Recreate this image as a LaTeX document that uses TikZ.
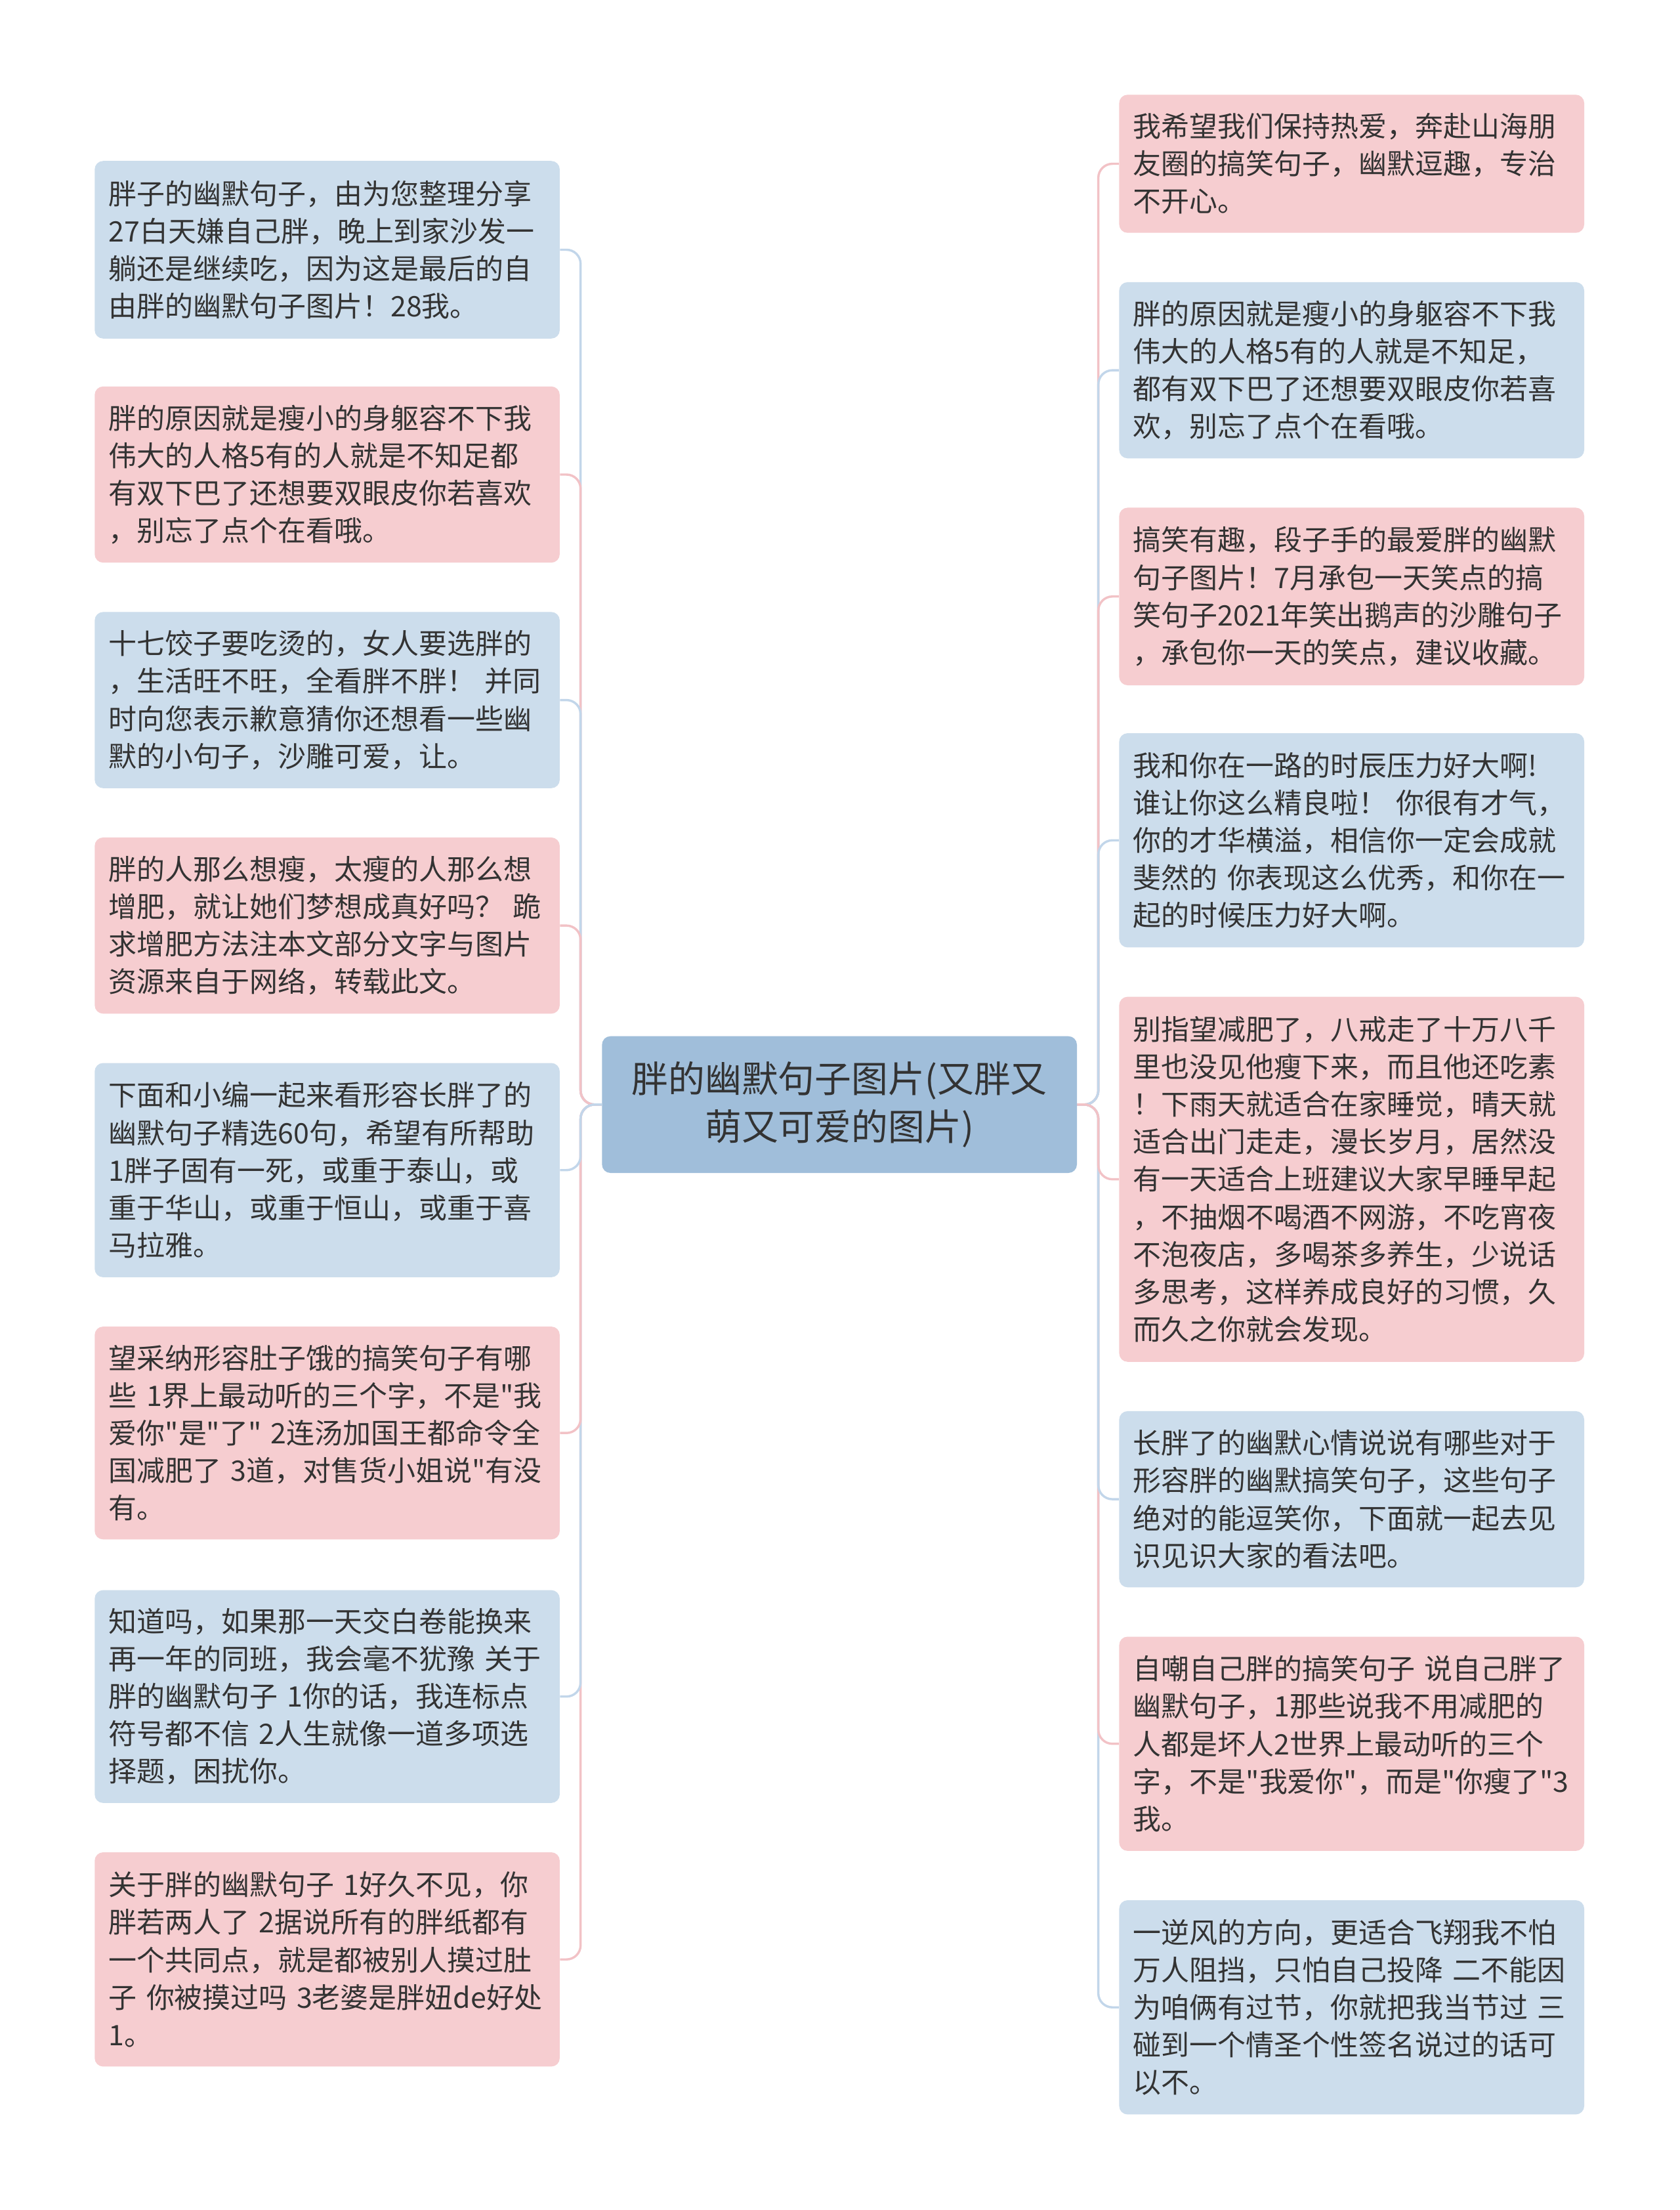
\documentclass[tikz,border=0pt]{standalone}
\usepackage{fontspec}
\setmainfont{Noto Sans CJK SC}[Ligatures=TeXOff]
\usetikzlibrary{backgrounds}
\definecolor{bluebox}{HTML}{CCDDEC}
\definecolor{pinkbox}{HTML}{F6CDD0}
\definecolor{rootbox}{HTML}{A0BEDA}
\definecolor{bluelink}{HTML}{C2D6EA}
\definecolor{pinklink}{HTML}{F2C2C6}
\definecolor{txt}{HTML}{333333}
\tikzset{
  leaf/.style={anchor=north west, text width=310pt, inner xsep=10pt, inner ysep=0pt,
    align=left, rounded corners=6pt, font=\fontsize{20pt}{26.6pt}\selectfont, text=txt},
  bleaf/.style={leaf, fill=bluebox},
  pleaf/.style={leaf, fill=pinkbox},
  rootbox/.style={anchor=north west, minimum width=337pt, minimum height=97pt, inner sep=0pt,
    align=center, rounded corners=6pt, fill=rootbox, text=txt, font=\fontsize{26pt}{34pt}\selectfont},
  link/.style={line width=1.6pt, rounded corners=10pt},
  blink/.style={link, draw=bluelink},
  plink/.style={link, draw=pinklink},
}
\begin{document}
\begin{tikzpicture}[x=1pt,y=-1pt]
\begin{scope}[on background layer]
\fill[white] (0,0) rectangle (1192,1568);
\end{scope}
\useasboundingbox (0,0) rectangle (1192,1568);

\node[rootbox] (root) at (427,735) {胖的幽默句子图片(又胖又\\萌又可爱的图片)};

% left column
\node[bleaf, minimum height=126pt] (L1) at (67,114) {胖子的幽默句子，由为您整理分享\\27白天嫌自己胖，晚上到家沙发一\\躺还是继续吃，因为这是最后的自\\由胖的幽默句子图片！28我。};
\node[pleaf, minimum height=125pt] (L2) at (67,274) {胖的原因就是瘦小的身躯容不下我\\伟大的人格5有的人就是不知足都\\有双下巴了还想要双眼皮你若喜欢\\，别忘了点个在看哦。};
\node[bleaf, minimum height=125pt] (L3) at (67,434) {十七饺子要吃烫的，女人要选胖的\\，生活旺不旺，全看胖不胖！~并同\\时向您表示歉意猜你还想看一些幽\\默的小句子，沙雕可爱，让。};
\node[pleaf, minimum height=125pt] (L4) at (67,594) {胖的人那么想瘦，太瘦的人那么想\\增肥，就让她们梦想成真好吗？~跪\\求增肥方法注本文部分文字与图片\\资源来自于网络，转载此文。};
\node[bleaf, minimum height=152pt] (L5) at (67,754) {下面和小编一起来看形容长胖了的\\幽默句子精选60句，希望有所帮助\\1胖子固有一死，或重于泰山，或\\重于华山，或重于恒山，或重于喜\\马拉雅。};
\node[pleaf, minimum height=151pt] (L6) at (67,941) {望采纳形容肚子饿的搞笑句子有哪\\些~1界上最动听的三个字，不是"我\\爱你"是"了"~2连汤加国王都命令全\\国减肥了~3道，对售货小姐说"有没\\有。};
\node[bleaf, minimum height=151pt] (L7) at (67,1128) {知道吗，如果那一天交白卷能换来\\再一年的同班，我会毫不犹豫~关于\\胖的幽默句子~1你的话，我连标点\\符号都不信~2人生就像一道多项选\\择题，困扰你。};
\node[pleaf, minimum height=152pt] (L8) at (67,1314) {关于胖的幽默句子~1好久不见，你\\胖若两人了~2据说所有的胖纸都有\\一个共同点，就是都被别人摸过肚\\子~你被摸过吗~3老婆是胖妞de好处\\1。};

% right column
\node[pleaf, minimum height=98pt] (R1) at (794,67) {我希望我们保持热爱，奔赴山海朋\\友圈的搞笑句子，幽默逗趣，专治\\不开心。};
\node[bleaf, minimum height=125pt] (R2) at (794,200) {胖的原因就是瘦小的身躯容不下我\\伟大的人格5有的人就是不知足，\\都有双下巴了还想要双眼皮你若喜\\欢，别忘了点个在看哦。};
\node[pleaf, minimum height=126pt] (R3) at (794,360) {搞笑有趣，段子手的最爱胖的幽默\\句子图片！7月承包一天笑点的搞\\笑句子2021年笑出鹅声的沙雕句子\\，承包你一天的笑点，建议收藏。};
\node[bleaf, minimum height=152pt] (R4) at (794,520) {我和你在一路的时辰压力好大啊!\\谁让你这么精良啦！~你很有才气，\\你的才华横溢，相信你一定会成就\\斐然的~你表现这么优秀，和你在一\\起的时候压力好大啊。};
\node[pleaf, minimum height=259pt] (R5) at (794,707) {别指望减肥了，八戒走了十万八千\\里也没见他瘦下来，而且他还吃素\\！下雨天就适合在家睡觉，晴天就\\适合出门走走，漫长岁月，居然没\\有一天适合上班建议大家早睡早起\\，不抽烟不喝酒不网游，不吃宵夜\\不泡夜店，多喝茶多养生，少说话\\多思考，这样养成良好的习惯，久\\而久之你就会发现。};
\node[bleaf, minimum height=125pt] (R6) at (794,1001) {长胖了的幽默心情说说有哪些对于\\形容胖的幽默搞笑句子，这些句子\\绝对的能逗笑你，下面就一起去见\\识见识大家的看法吧。};
\node[pleaf, minimum height=152pt] (R7) at (794,1161) {自嘲自己胖的搞笑句子~说自己胖了\\幽默句子，1那些说我不用减肥的\\人都是坏人2世界上最动听的三个\\字，不是"我爱你"，而是"你瘦了"3\\我。};
\node[bleaf, minimum height=152pt] (R8) at (794,1348) {一逆风的方向，更适合飞翔我不怕\\万人阻挡，只怕自己投降~二不能因\\为咱俩有过节，你就把我当节过~三\\碰到一个情圣个性签名说过的话可\\以不。};

\begin{scope}[on background layer]
% left connectors
\draw[blink] (root.west) -- ([xshift=-15pt]root.west) |- (L1.east);
\draw[plink] (root.west) -- ([xshift=-15pt]root.west) |- (L2.east);
\draw[blink] (root.west) -- ([xshift=-15pt]root.west) |- (L3.east);
\draw[plink] (root.west) -- ([xshift=-15pt]root.west) |- (L4.east);
\draw[plink] (root.west) -- ([xshift=-15pt]root.west) |- (L8.east);
\draw[blink] (root.west) -- ([xshift=-15pt]root.west) |- (L7.east);
\draw[plink] (root.west) -- ([xshift=-15pt]root.west) |- (L6.east);
\draw[blink] (root.west) -- ([xshift=-15pt]root.west) |- (L5.east);
% right connectors
\draw[plink] (root.east) -- ([xshift=15pt]root.east) |- (R1.west);
\draw[blink] (root.east) -- ([xshift=15pt]root.east) |- (R2.west);
\draw[plink] (root.east) -- ([xshift=15pt]root.east) |- (R3.west);
\draw[blink] (root.east) -- ([xshift=15pt]root.east) |- (R4.west);
\draw[blink] (root.east) -- ([xshift=15pt]root.east) |- (R8.west);
\draw[plink] (root.east) -- ([xshift=15pt]root.east) |- (R7.west);
\draw[blink] (root.east) -- ([xshift=15pt]root.east) |- (R6.west);
\draw[plink] (root.east) -- ([xshift=15pt]root.east) |- (R5.west);
\end{scope}
\end{tikzpicture}
\end{document}
